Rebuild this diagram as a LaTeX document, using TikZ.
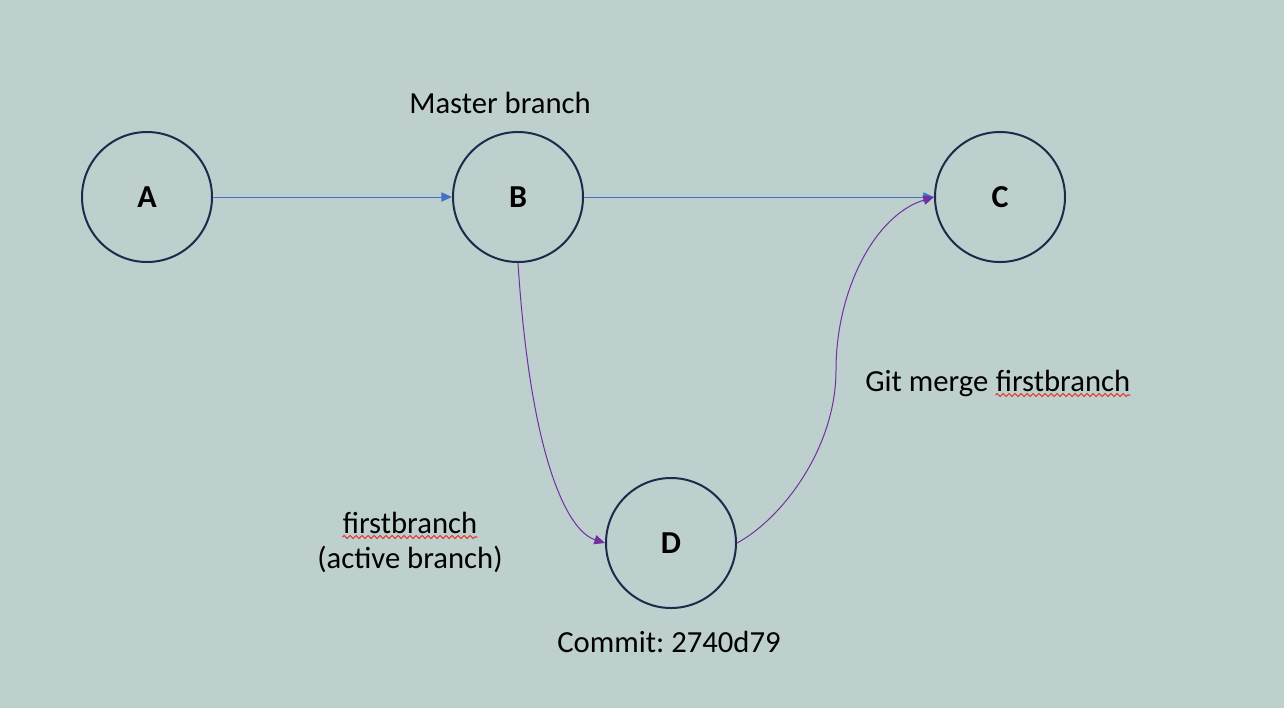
\documentclass[tikz,border=0pt]{standalone}
\usepackage{fontspec}
\setmainfont{Carlito}
\frenchspacing
\usetikzlibrary{arrows.meta,decorations.pathmorphing}
\definecolor{bgcolor}{RGB}{190,208,206}
\definecolor{ringcolor}{RGB}{30,42,76}
\definecolor{linkblue}{RGB}{68,114,196}
\definecolor{mergepurple}{RGB}{112,48,160}
\definecolor{squigred}{RGB}{228,58,48}
\begin{document}
\begin{tikzpicture}[x=0.75pt,y=-0.75pt,
    commit/.style={circle,draw=ringcolor,line width=1.5pt,minimum size=97.5pt,
        inner sep=0pt,font=\fontsize{24}{28}\selectfont\bfseries},
    note/.style={inner sep=0pt,font=\fontsize{23}{28}\selectfont},
    link/.style={line width=0.75pt,-{Triangle[length=8pt,width=7pt]}},
    squig/.style={draw=squigred,line width=0.8pt,decorate,
        decoration={zigzag,amplitude=1.1pt,segment length=4.5pt}}]
        %画背景
        \fill[bgcolor] (0,0) rectangle (1284,708);
        \useasboundingbox (0,0) rectangle (1284,708);
        %画提交节点
        \node[commit] (A) at (147,197) {A};
        \node[commit] (B) at (518,197) {B};
        \node[commit] (C) at (1000,197) {C};
        \node[commit] (D) at (671,543) {D};
        %画主分支连线
        \draw[link,linkblue] (A) -- (B);
        \draw[link,linkblue] (B) -- (C);
        %画分支和合并曲线
        \draw[link,mergepurple] (B.south) .. controls (530,450) and (565,530) .. (D.west);
        \draw[link,mergepurple] (D.east) .. controls (780,520) and (836,450) .. (836,370)
            .. controls (836,290) and (875,215) .. (C.west);
        %标文字
        \node[note,anchor=base] (master) at (500,113) {Master branch};
        \node[note,anchor=base west] (merge) at (865,391) {Git merge};
        \node[note,anchor=base west] (mergefb) at ([xshift=5.2pt]merge.base east) {firstbranch};
        \node[note,anchor=base] (fb) at (410,533) {firstbranch};
        \node[note,anchor=base] (active) at (410,568) {(active branch)};
        \node[note,anchor=base] (commitid) at (669,652) {Commit: 2740d79};
        %画红色波浪线
        \draw[squig] ([yshift=-3pt]mergefb.base west) -- ([yshift=-3pt]mergefb.base east);
        \draw[squig] ([yshift=-3pt]fb.base west) -- ([yshift=-3pt]fb.base east);
\end{tikzpicture}
\end{document}
